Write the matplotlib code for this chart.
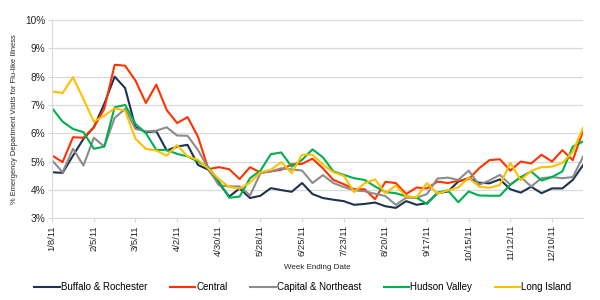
import matplotlib.pyplot as plt
import numpy as np

plt.rcParams['font.family'] = ['Liberation Sans', 'DejaVu Sans']

# weekly % ED visits for flu-like illness, week ending 1/8/11 .. 12/31/11
buffalo = [4.62, 4.60, 5.21, 5.80, 6.21, 7.04, 8.00, 7.60, 6.21, 6.04, 6.07, 5.39, 5.53,
           5.59, 4.88, 4.71, 4.24, 3.76, 4.05, 3.71, 3.79, 4.06, 3.99, 3.93, 4.24, 3.85,
           3.71, 3.65, 3.60, 3.47, 3.50, 3.55, 3.42, 3.36, 3.60, 3.47, 3.53, 3.88, 3.94,
           4.29, 4.41, 4.25, 4.23, 4.37, 4.02, 3.90, 4.11, 3.88, 4.05, 4.05, 4.35, 4.88]
central = [5.21, 4.98, 5.86, 5.84, 6.21, 6.86, 8.42, 8.39, 7.86, 7.07, 7.72, 6.82, 6.36,
           6.57, 5.88, 4.73, 4.80, 4.73, 4.38, 4.80, 4.61, 4.65, 4.71, 4.90, 4.92, 5.10,
           4.76, 4.35, 4.20, 4.02, 4.02, 3.67, 4.28, 4.24, 3.85, 4.08, 4.05, 4.29, 4.24,
           4.32, 4.38, 4.76, 5.05, 5.08, 4.68, 5.00, 4.93, 5.24, 5.00, 5.40, 5.05, 6.10]
capital = [5.04, 4.62, 5.45, 4.86, 5.84, 5.53, 6.54, 6.86, 6.15, 6.07, 6.09, 6.21, 5.92,
           5.91, 5.41, 4.75, 4.16, 4.12, 4.12, 3.80, 4.59, 4.65, 4.76, 4.72, 4.68, 4.24,
           4.52, 4.24, 4.10, 3.98, 3.95, 3.86, 3.78, 3.47, 3.72, 3.72, 3.85, 4.40, 4.43,
           4.35, 4.68, 4.18, 4.33, 4.53, 4.18, 4.45, 4.12, 4.41, 4.45, 4.41, 4.45, 5.18]
hudson = [6.88, 6.41, 6.15, 6.04, 5.45, 5.53, 6.92, 7.00, 6.33, 6.00, 5.41, 5.41, 5.27,
          5.18, 5.00, 4.80, 4.30, 3.72, 3.76, 4.41, 4.68, 5.26, 5.32, 4.82, 5.06, 5.43,
          5.15, 4.65, 4.53, 4.41, 4.35, 4.12, 3.92, 3.88, 3.77, 3.72, 3.50, 3.90, 3.98,
          3.56, 3.94, 3.80, 3.79, 3.79, 4.18, 4.45, 4.65, 4.33, 4.45, 4.65, 5.53, 5.71]
long_island = [7.48, 7.42, 7.98, 7.21, 6.41, 6.62, 6.88, 6.80, 5.80, 5.45, 5.39, 5.21, 5.58,
               5.18, 5.06, 4.75, 4.38, 4.10, 4.04, 4.26, 4.62, 4.71, 4.98, 4.59, 5.24, 5.24,
               4.90, 4.62, 4.50, 3.92, 4.23, 4.37, 3.88, 4.15, 3.76, 3.74, 4.24, 3.86, 3.98,
               4.08, 4.43, 4.11, 4.07, 4.17, 4.95, 4.34, 4.67, 4.80, 4.82, 4.95, 5.35, 6.20]

regions = ['Buffalo & Rochester', 'Central', 'Capital & Northeast', 'Hudson Valley', 'Long Island']
colors = ['#1f3350', '#ff3300', '#8c8c8c', '#00b050', '#ffc000']
tick_labels = ['1/8/11', '2/5/11', '3/5/11', '4/2/11', '4/30/11', '5/28/11', '6/25/11',
               '7/23/11', '8/20/11', '9/17/11', '10/15/11', '11/12/11', '12/10/11']

fig = plt.figure(figsize=(6, 3), dpi=100)
ax = fig.add_axes([0.087, 0.273, 0.885, 0.66])

weeks = np.arange(len(buffalo))
for series, name, c in zip([buffalo, central, capital, hudson, long_island], regions, colors):
    ax.plot(weeks, series, color=c, lw=1.5, label=name)

ax.set_xlim(0, len(buffalo) - 1)
ax.set_ylim(3, 10)
ax.set_yticks(range(3, 11))
ax.set_yticklabels([f'{v}%' for v in range(3, 11)], fontsize=7.3, color='#262626')
ax.set_xticks(range(0, len(buffalo), 4))
ax.set_xticklabels(tick_labels, rotation=90, fontsize=6.8, color='#262626')
ax.tick_params(axis='both', length=3, color='#d9d9d9', pad=2)

ax.grid(axis='y', color='#d9d9d9', lw=0.9)
ax.set_axisbelow(True)
for s in ['top', 'right']:
    ax.spines[s].set_visible(False)
for s in ['left', 'bottom']:
    ax.spines[s].set_color('#d9d9d9')

ax.set_xlabel('Week Ending Date', fontsize=5.8, color='#262626', labelpad=2)
ax.set_ylabel('% Emergency Department Visits for Flu-like Illness', fontsize=5.4,
              color='#262626', labelpad=5)

fig.legend(loc='center', bbox_to_anchor=(0.505, 0.043), ncol=5, frameon=False,
           fontsize=7, handlelength=2.6, columnspacing=2.3, handletextpad=0.15)

fig.savefig('out.png', dpi=100)
